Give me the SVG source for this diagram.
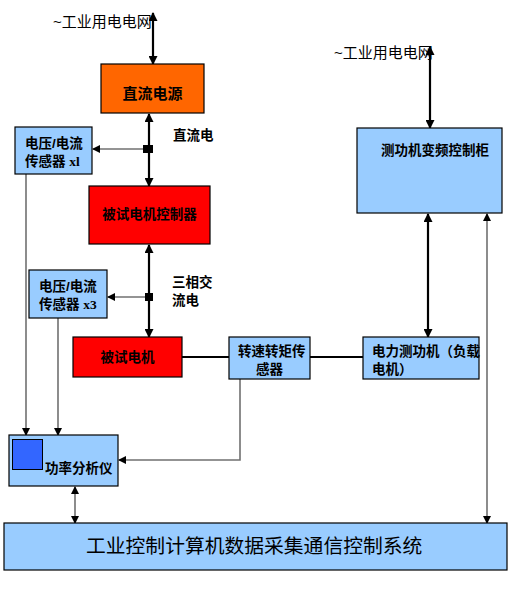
<svg xmlns="http://www.w3.org/2000/svg" width="516" height="591" viewBox="0 0 516 591">
<style>
.box{stroke:#000;stroke-width:1.2}
.t{font-family:"Liberation Sans","Noto Sans CJK SC",sans-serif;font-weight:bold;font-size:13.5px;fill:#000}
.s{font-family:"Liberation Serif",serif}
.thick{stroke:#000;stroke-width:2.2;fill:none}
.thin{stroke:#707070;stroke-width:1.6;fill:none}
</style>
<defs>
<marker id="ah" markerUnits="userSpaceOnUse" markerWidth="9" markerHeight="9" refX="8" refY="4.5" orient="auto-start-reverse" viewBox="0 0 9 9">
<path d="M0,0 L9,4.5 L0,9 z" fill="#000"/>
</marker>
<marker id="as" markerUnits="userSpaceOnUse" markerWidth="8" markerHeight="8" refX="7" refY="4" orient="auto-start-reverse" viewBox="0 0 8 8">
<path d="M0,0 L8,4 L0,8 z" fill="#000"/>
</marker>
</defs>
<rect width="516" height="591" fill="#fff"/>

<g id="connectors">
<line class="thick" x1="153" y1="13" x2="153" y2="64" marker-start="url(#ah)" marker-end="url(#ah)"/>
<line class="thick" x1="149" y1="114" x2="149" y2="186" marker-start="url(#ah)" marker-end="url(#ah)"/>
<line class="thin" x1="144" y1="149" x2="93" y2="149" marker-end="url(#as)"/>
<rect x="143" y="145" width="10" height="8" fill="#000"/>
<line class="thick" x1="149" y1="245" x2="149" y2="337" marker-start="url(#ah)" marker-end="url(#ah)"/>
<line class="thin" x1="146" y1="297" x2="108" y2="297" marker-end="url(#as)"/>
<rect x="145" y="293" width="8" height="8" fill="#000"/>
<line class="thick" x1="182" y1="357" x2="229" y2="357"/>
<line class="thick" x1="310" y1="357" x2="363" y2="357"/>
<line class="thick" x1="430" y1="47" x2="430" y2="128" marker-start="url(#ah)" marker-end="url(#ah)"/>
<line class="thick" x1="428" y1="214" x2="428" y2="337" marker-start="url(#ah)" marker-end="url(#ah)"/>
<line class="thin" x1="487" y1="214" x2="487" y2="523" marker-start="url(#as)" marker-end="url(#as)"/>
<line class="thin" x1="26" y1="174" x2="26" y2="435" marker-end="url(#as)"/>
<line class="thin" x1="58" y1="318" x2="58" y2="435" marker-end="url(#as)"/>
<polyline class="thin" points="240,379 240,460 119,460" marker-end="url(#as)"/>
<line class="thin" x1="75" y1="487" x2="75" y2="523" marker-start="url(#as)" marker-end="url(#as)"/>
</g>

<g id="grid-left"><text class="t" x="53" y="27" style="font-weight:normal;font-size:15px">~工业用电电网</text></g>
<g id="grid-right"><text class="t" x="334" y="58" style="font-weight:normal;font-size:15px">~工业用电电网</text></g>

<g id="dc-source">
<rect class="box" x="101" y="64" width="103" height="49" fill="#FF6600"/>
<text class="t" x="152.5" y="99" text-anchor="middle" style="font-size:15px">直流电源</text>
</g>
<g id="dc-label"><text class="t" x="173" y="140">直流电</text></g>

<g id="sensor-x1">
<rect class="box" x="15" y="127" width="77" height="47" fill="#99CCFF"/>
<text class="t" x="25" y="148">电压/电流</text>
<text class="t" x="25" y="166">传感器 <tspan class="s">xl</tspan></text>
</g>

<g id="controller">
<rect class="box" x="89" y="186" width="121" height="58" fill="#FF0000"/>
<text class="t" x="149.5" y="219" text-anchor="middle">被试电机控制器</text>
</g>

<g id="ac-label">
<text class="t" x="172" y="287">三相交</text>
<text class="t" x="172" y="305">流电</text>
</g>

<g id="sensor-x3">
<rect class="box" x="29" y="270" width="78" height="48" fill="#99CCFF"/>
<text class="t" x="39" y="291">电压/电流</text>
<text class="t" x="39" y="309">传感器 <tspan class="s">x3</tspan></text>
</g>

<g id="motor">
<rect class="box" x="73" y="337" width="109" height="40" fill="#FF0000"/>
<text class="t" x="127.5" y="362" text-anchor="middle">被试电机</text>
</g>

<g id="torque-sensor">
<rect class="box" x="229" y="337" width="81" height="42" fill="#99CCFF"/>
<text class="t" x="238" y="356">转速转矩传</text>
<text class="t" x="256" y="374">感器</text>
</g>

<g id="dynamometer">
<rect class="box" x="363" y="337" width="116" height="42" fill="#99CCFF"/>
<text class="t" x="372" y="356">电力测功机（负载</text>
<text class="t" x="372" y="374">电机）</text>
</g>

<g id="cabinet">
<rect class="box" x="357" y="128" width="145" height="85" fill="#99CCFF"/>
<text class="t" x="381" y="155">测功机变频控制柜</text>
</g>

<g id="power-analyzer">
<rect class="box" x="9" y="435" width="109" height="51" fill="#99CCFF"/>
<rect x="12.5" y="439.5" width="30" height="30" fill="#3366FF" stroke="#000" stroke-width="1"/>
<text class="t" x="45" y="473">功率分析仪</text>
</g>

<g id="control-system">
<rect class="box" x="4" y="523" width="503" height="47" fill="#99CCFF"/>
<text class="t" x="86" y="553" style="font-weight:normal;font-size:19.8px">工业控制计算机数据采集通信控制系统</text>
</g>
</svg>
